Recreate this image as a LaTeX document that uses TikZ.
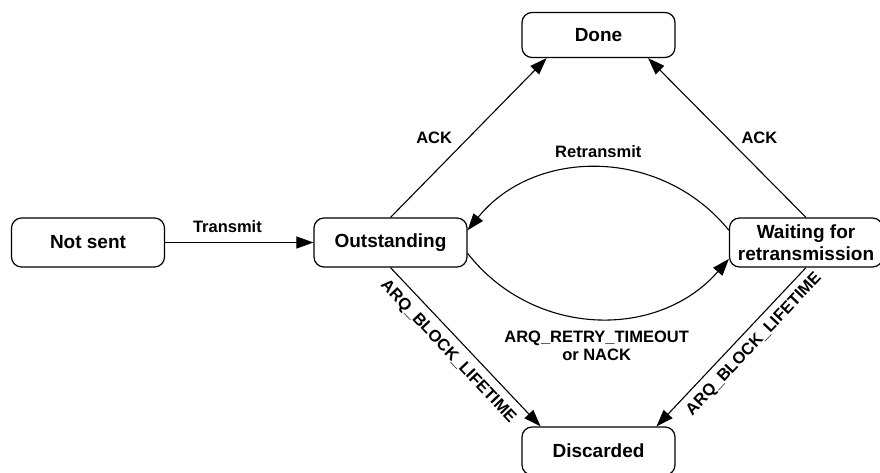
\documentclass[tikz,border=0pt]{standalone}
\usepackage{fontspec}
\setmainfont{Liberation Sans}
\usetikzlibrary{arrows.meta}
\tikzset{
 state/.style={draw, line width=1.2pt, rounded corners=10pt, minimum width=153pt, minimum height=49pt, inner sep=0pt, align=center, font=\fontsize{19}{22}\selectfont\bfseries, fill=white},
 endstate/.style={state, minimum height=45pt},
 conn/.style={line width=1.1pt, -{Triangle[length=17pt,width=12pt]}},
 lbl/.style={font=\fontsize{16.5}{18}\selectfont\bfseries, inner sep=0pt, align=center},
}
\begin{document}
\begin{tikzpicture}[x=1pt,y=1pt]
\useasboundingbox (0,0) rectangle (880,-472);
\clip (0,0) rectangle (880,-472);
\node[state] (ns) at (88,-242.5) {Not sent};
\node[state] (o) at (390.5,-242.5) {Outstanding};
\node[state] (w) at (806,-242.5) {Waiting for\\retransmission};
\node[endstate] (d) at (598.5,-35) {Done};
\node[endstate, minimum height=48pt] (x) at (598.5,-451) {Discarded};
\draw[conn] (ns) -- node[lbl, pos=0.42, above=9pt]{Transmit} (o);
\draw[conn] (o.north) -- node[lbl, left=16pt]{ACK} (d.204);
\draw[conn] (w.north) -- node[lbl, right=14pt]{ACK} (d.-25);
\draw[conn] (w.171) to[out=129,in=51,looseness=1.05] node[lbl, above=10pt]{Retransmit} (o.9);
\draw[conn] (o.-8) to[out=-52,in=229,looseness=1.05] node[lbl, below=12pt]{ARQ\_RETRY\_TIMEOUT\\or NACK} (w.192);
\draw[conn] (o.south) -- node[lbl, sloped, pos=0.46, below=8pt]{ARQ\_BLOCK\_LIFETIME} (x.157);
\draw[conn] (w.south) -- node[lbl, sloped, pos=0.42, below=7pt]{ARQ\_BLOCK\_LIFETIME} (x.23);
\end{tikzpicture}
\end{document}
